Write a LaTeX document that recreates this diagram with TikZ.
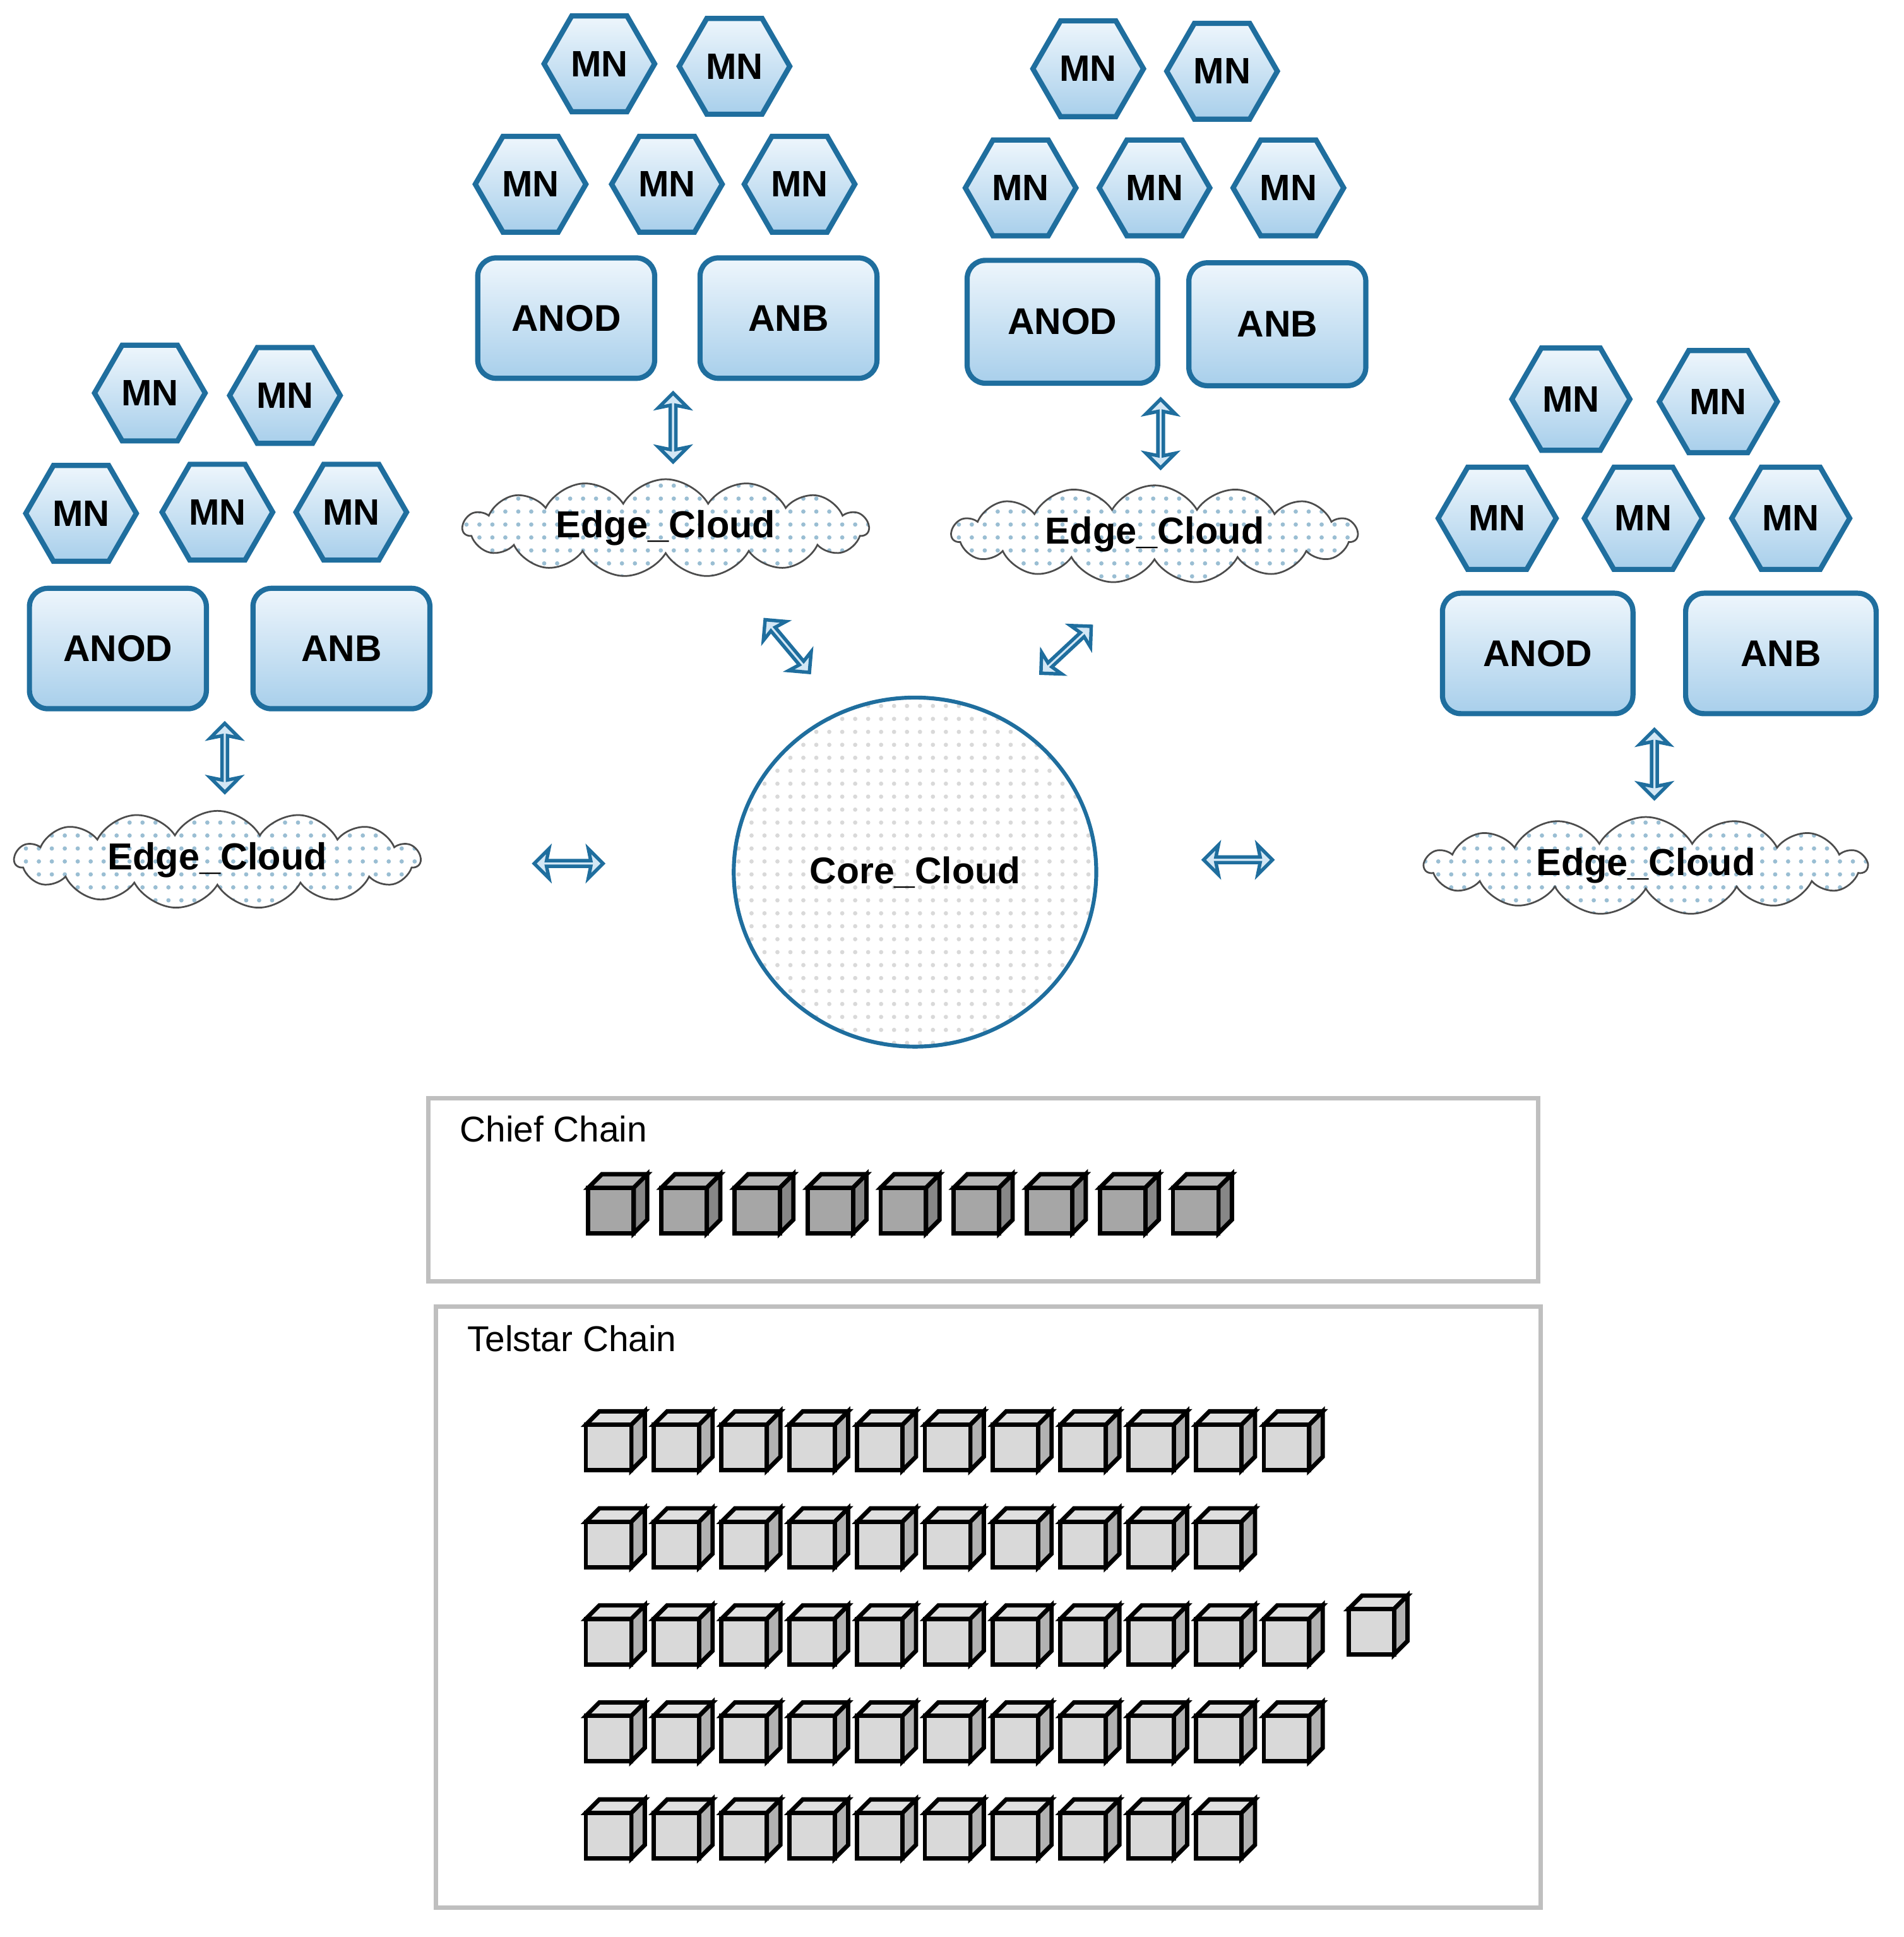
\documentclass[tikz,border=0pt]{standalone}
\usepackage{fontspec}
\setmainfont{Liberation Sans}
\usepackage{tikz}
\usetikzlibrary{patterns}
\usetikzlibrary{shapes.geometric}
\usetikzlibrary{shapes.arrows}
\usetikzlibrary{shapes.symbols}
\usetikzlibrary{calc}
\definecolor{nodeblue}{HTML}{1F6E9E}
\definecolor{topblue}{HTML}{EEF6FC}
\definecolor{botblue}{HTML}{A8CFEB}
\begin{document}
\begin{tikzpicture}[x=0.01cm,y=-0.01cm]
      \newcommand{\cube}[5]{% x, y (front top left), top, front, side
        \draw[line width=1pt,fill=#3] (#1+11,#2-11) -- (#1+48,#2-11) -- (#1+37,#2) -- (#1,#2) -- cycle;
        \draw[line width=1pt,fill=#5] (#1+37,#2) -- (#1+48,#2-11) -- (#1+48,#2+26) -- (#1+37,#2+37) -- cycle;
        \draw[line width=1pt,fill=#4] (#1,#2) rectangle (#1+37,#2+37);
      }
      \tikzstyle{mn}=[
        regular polygon,
        regular polygon sides=6,
        minimum size=0.9cm,
        inner sep=0pt,
        draw=nodeblue,
        line width=1.2pt,
        top color=topblue,
        bottom color=botblue,
        font=\fontsize{8.5}{10}\selectfont\bfseries,
      ]
      \tikzstyle{box}=[
        rectangle,
        rounded corners=0.15cm,
        minimum width=1.44cm,
        minimum height=0.98cm,
        draw=nodeblue,
        line width=1.2pt,
        top color=topblue,
        bottom color=botblue,
        font=\fontsize{8.6}{10}\selectfont\bfseries,
      ]
      \tikzstyle{edge}=[
        cloud,
        cloud puffs=15,
        cloud puff arc=120,
        aspect=5,
        inner sep=0pt,
        minimum width=3.3cm,
        minimum height=0.72cm,
        draw=black!70,
        pattern=dots,
        pattern color=nodeblue!45,
        font=\fontsize{8.7}{10}\selectfont\bfseries,
      ]
      \tikzstyle{link}=[
        double arrow,
        minimum height=0.56cm,
        minimum width=0.24cm,
        double arrow head extend=0.06cm,
        double arrow head indent=0.02cm,
        inner sep=0pt,
        draw=nodeblue,
        fill=botblue!50,
        line width=0.8pt,
      ]
      \tikzstyle{chain}=[draw=black!25,line width=1pt]

      \useasboundingbox (0,0) rectangle (1550,1577);

      % upper middle group
      \node[mn] (a1) at (488,52) {MN};
      \node[mn] (a2) at (598,54) {MN};
      \node[mn] (a3) at (432,150) {MN};
      \node[mn] (a4) at (543,150) {MN};
      \node[mn] (a5) at (651,150) {MN};
      \node[box] (anod1) at (461,259) {ANOD};
      \node[box] (anb1) at (642,259) {ANB};
      \node[link,rotate=90] (l1) at (548,348) {};
      \node[edge] (edge1) at (542,430) {Edge\_Cloud};

      % upper right group
      \node[mn] (b1) at (886,56) {MN};
      \node[mn] (b2) at (995,58) {MN};
      \node[mn] (b3) at (831,153) {MN};
      \node[mn] (b4) at (940,153) {MN};
      \node[mn] (b5) at (1049,153) {MN};
      \node[box,minimum width=1.55cm,minimum height=1cm] (anod2) at (865,262) {ANOD};
      \node[box,minimum height=1cm] (anb2) at (1040,264) {ANB};
      \node[link,rotate=90] (l2) at (945,353) {};
      \node[edge] (edge2) at (940,435) {Edge\_Cloud};

      % left group
      \node[mn] (c1) at (122,320) {MN};
      \node[mn] (c2) at (232,322) {MN};
      \node[mn] (c3) at (66,418) {MN};
      \node[mn] (c4) at (177,417) {MN};
      \node[mn] (c5) at (286,417) {MN};
      \node[box] (anod3) at (96,528) {ANOD};
      \node[box] (anb3) at (278,528) {ANB};
      \node[link,rotate=90] (l3) at (183,617) {};
      \node[edge] (edge3) at (177,700) {Edge\_Cloud};

      % right group
      \node[mn,minimum size=0.96cm] (d1) at (1279,325) {MN};
      \node[mn,minimum size=0.96cm] (d2) at (1399,327) {MN};
      \node[mn,minimum size=0.96cm] (d3) at (1219,422) {MN};
      \node[mn,minimum size=0.96cm] (d4) at (1338,422) {MN};
      \node[mn,minimum size=0.96cm] (d5) at (1458,422) {MN};
      \node[box,minimum width=1.55cm] (anod4) at (1252,532) {ANOD};
      \node[box,minimum width=1.55cm] (anb4) at (1450,532) {ANB};
      \node[link,rotate=90] (l4) at (1347,622) {};
      \node[edge,minimum width=3.6cm] (edge4) at (1340,705) {Edge\_Cloud};

      % core
      \node[ellipse,minimum width=2.95cm,minimum height=2.84cm,draw=nodeblue,line width=0.9pt,
        pattern=dots,pattern color=black!15,font=\fontsize{8.6}{10}\selectfont\bfseries] (core) at (745,710) {Core\_Cloud};
      \node[link,rotate=-50] (l5) at (641,526) {};
      \node[link,rotate=43] (l6) at (868,529) {};
      \node[link] (l7) at (463,703) {};
      \node[link] (l8) at (1008,700) {};

      % chains
      \node[chain,minimum width=9.03cm,minimum height=1.49cm] (chief) at (800.5,968.5) {};
      \node[anchor=west,font=\fontsize{8.3}{10}\selectfont] (chieflbl) at (362,919) {Chief Chain};
      \foreach \i in {0,...,8}
        \cube{479+59.5*\i}{967}{black!28}{black!35}{black!47};

      \node[chain,minimum width=8.99cm,minimum height=4.89cm] (telstar) at (804.5,1308.5) {};
      \node[anchor=west,font=\fontsize{8.3}{10}\selectfont] (telstarlbl) at (368,1090) {Telstar Chain};
      \foreach \row/\n in {0/10,1/9,2/10,3/10,4/9}
        \foreach \i in {0,...,\n}
          \cube{477+55.2*\i}{1160+79*\row}{black!12}{black!15}{black!30};
      \cube{1098}{1310}{black!12}{black!15}{black!30};
\end{tikzpicture}
\end{document}
